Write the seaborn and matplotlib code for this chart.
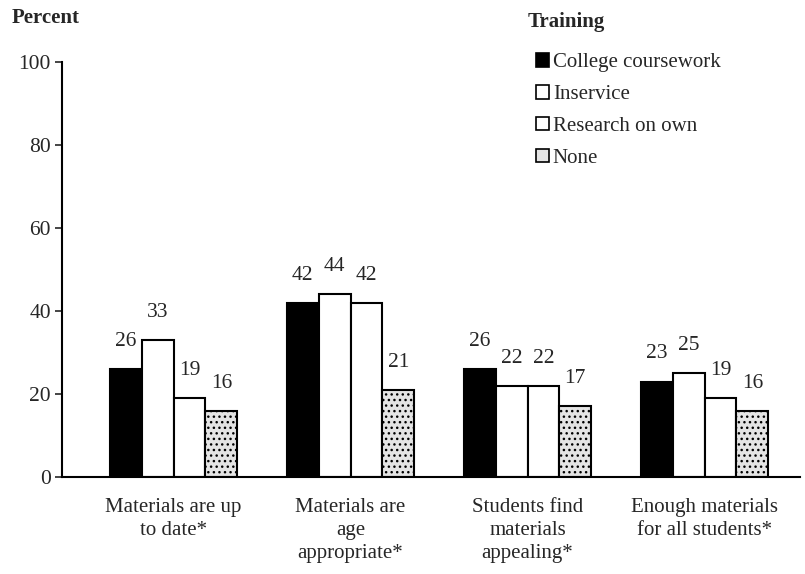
import pandas as pd
import matplotlib
matplotlib.use("Agg")
import matplotlib.pyplot as plt
import seaborn as sns
from matplotlib.patches import Patch

# dados do gráfico
categorias = ["Materials are up\nto date*", "Materials are\nage\nappropriate*",
              "Students find\nmaterials\nappealing*", "Enough materials\nfor all students*"]
treinamentos = ["College coursework", "Inservice", "Research on own", "None"]
college = [26, 42, 26, 23]
inservice = [33, 44, 22, 25]
research = [19, 42, 22, 19]
nenhum = [16, 21, 17, 16]

valores = [college, inservice, research, nenhum]
linhas = []
for t, serie in zip(treinamentos, valores):
    for c, v in zip(categorias, serie):
        linhas.append({"cat": c, "training": t, "val": v})
df = pd.DataFrame(linhas)

sns.set_style("white")
plt.rcParams['font.family'] = ['Liberation Serif', 'DejaVu Serif']
plt.rcParams['hatch.color'] = '#999999'

cores = {"College coursework": "black", "Inservice": "white",
         "Research on own": "white", "None": "#e4e4e4"}

fig = plt.figure(figsize=(8.05, 5.74), dpi=100)
ax = fig.add_axes([0.077, 0.169, 0.917, 0.723])

sns.barplot(data=df, x="cat", y="val", hue="training", hue_order=treinamentos,
            order=categorias, palette=cores, edgecolor="black", linewidth=1.5,
            width=0.72, gap=0, legend=False, ax=ax)

# textura pontilhada na série "None"
for barra in ax.containers[3]:
    barra.set_hatch("...")
for cont in ax.containers:
    ax.bar_label(cont, fmt="%d", padding=13, fontsize=15.5)

ax.set_ylim(0, 100)
ax.set_xlim(-0.63, 3.54)
ax.set_yticks([0, 20, 40, 60, 80, 100])
ax.tick_params(axis="y", length=5, width=1.2, labelsize=15.5, direction="out", left=True, pad=3)
ax.tick_params(axis="x", length=0, labelsize=15, pad=15)
for lbl in ax.get_xticklabels():
    lbl.set_linespacing(1.3)
ax.set_xlabel("")
ax.set_ylabel("")
for lado in ["top", "right"]:
    ax.spines[lado].set_visible(False)
ax.spines["left"].set_linewidth(1.5)
ax.spines["bottom"].set_linewidth(1.5)
ax.spines["left"].set_color("black")
ax.spines["bottom"].set_color("black")

fig.text(0.014, 0.968, "Percent", fontsize=15, weight="bold", va="center")
fig.text(0.656, 0.962, "Training", fontsize=15, weight="bold", va="center")

handles = [Patch(facecolor=cores[t], edgecolor="black", linewidth=1.2) for t in treinamentos]
leg = fig.legend(handles, treinamentos, loc="upper left",
                 bbox_to_anchor=(0.666, 0.907), frameon=False, fontsize=15,
                 handlelength=0.6, handleheight=0.6, handletextpad=0.2,
                 labelspacing=0.62, borderpad=0, borderaxespad=0)

fig.savefig("out.png", dpi=100)
